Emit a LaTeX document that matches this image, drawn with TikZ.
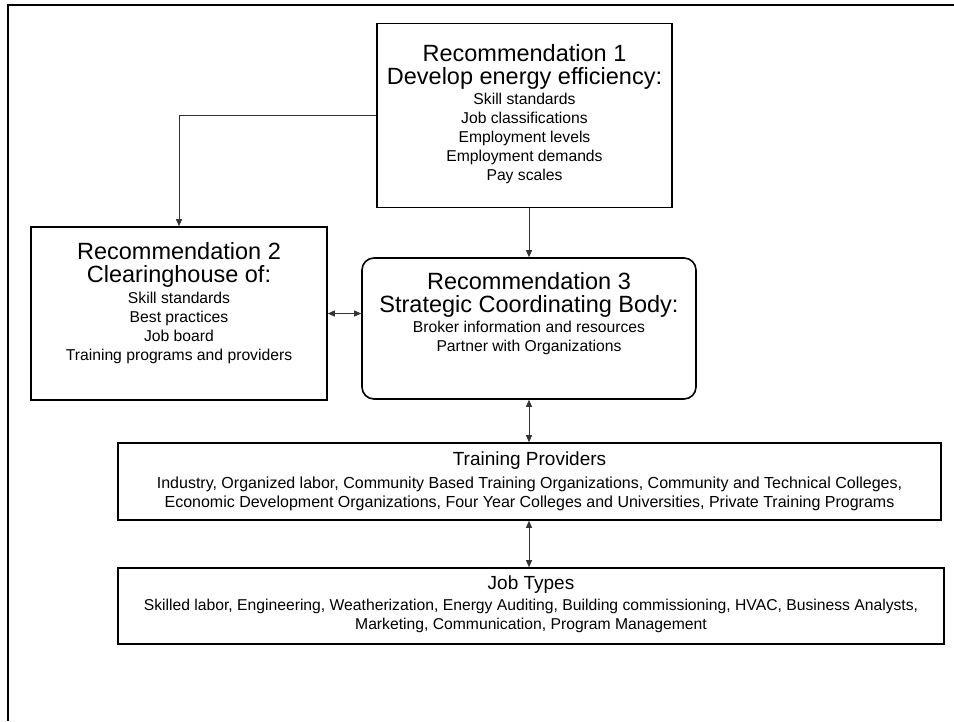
\documentclass[tikz,border=0pt]{standalone}
\usepackage{fontspec}
\setmainfont{Liberation Sans}
\usetikzlibrary{positioning, arrows.meta}
\newcommand{\boxtitle}[1]{{\fontsize{23.5}{22}\selectfont #1}}
\newcommand{\lift}[1]{\rule[-#1]{0pt}{#1}}

\begin{document}
\begin{tikzpicture}[x=1pt, y=-1pt,
    rec/.style={draw, line width=1.6pt, align=center, inner sep=0pt,
        font=\fontsize{15.7}{19}\selectfont},
    link/.style={line width=0.8pt, draw=black!80},
    oneway/.style={-{Triangle[length=7pt,width=6pt]}},
    twoway/.style={{Triangle[length=7pt,width=6pt]}-{Triangle[length=7pt,width=6pt]}}]
    \useasboundingbox (0,0) rectangle (954,721);
    % Draw page frame
    \draw[line width=2.5pt] (954,5) -- (8,5) -- (8,721);

    % Draw recommendation boxes
    \node[rec, minimum width=295pt, minimum height=184pt] (rec1) at (524.5,115.5)
        {\boxtitle{Recommendation 1}\\[4pt] \boxtitle{Develop energy efficiency:}\\[1pt]
         Skill standards\\ Job classifications\\ Employment levels\\
         Employment demands\\ Pay scales\lift{6pt}};
    \node[rec, minimum width=296pt, minimum height=173pt] (rec2) at (179,313.5)
        {\boxtitle{Recommendation 2}\\[4pt] \boxtitle{Clearinghouse of:}\\[2pt]
         Skill standards\\ Best practices\\ Job board\\
         Training programs and providers\lift{24pt}};
    \node[rec, rounded corners=12pt, minimum width=334pt, minimum height=141pt] (rec3) at (529,328.5)
        {\boxtitle{Recommendation 3}\\[4pt] \boxtitle{Strategic Coordinating Body:}\\[1pt]
         Broker information and resources\\ Partner with Organizations\lift{34pt}};

    % Draw providers and job types
    \node[rec, font=\fontsize{16}{19}\selectfont, minimum width=823pt, minimum height=77pt] (prov) at (529.5,481.5)
        {{\fontsize{19}{21}\selectfont Training Providers}\\[4pt]
         Industry, Organized labor, Community Based Training Organizations, Community and Technical Colleges,\\
         Economic Development Organizations, Four Year Colleges and Universities, Private Training Programs};
    \node[rec, minimum width=826pt, minimum height=76pt] (jobs) at (531,606)
        {{\fontsize{19}{21}\selectfont Job Types}\\[2pt]
         Skilled labor, Engineering, Weatherization, Energy Auditing, Building commissioning, HVAC, Business Analysts,\\
         Marketing, Communication, Program Management\lift{6pt}};

    % Draw connectors
    \draw[link, oneway] (rec1.west) -| (rec2.north);
    \draw[link, oneway] (rec1.south -| rec3.north) -- (rec3.north);
    \draw[link, twoway] (rec2.east) -- (rec2.east -| rec3.west);
    \draw[link, twoway] (rec3.south) -- (prov.north -| rec3.south);
    \draw[link, twoway] (prov.south -| rec3.south) -- (jobs.north -| rec3.south);
\end{tikzpicture}
\end{document}
